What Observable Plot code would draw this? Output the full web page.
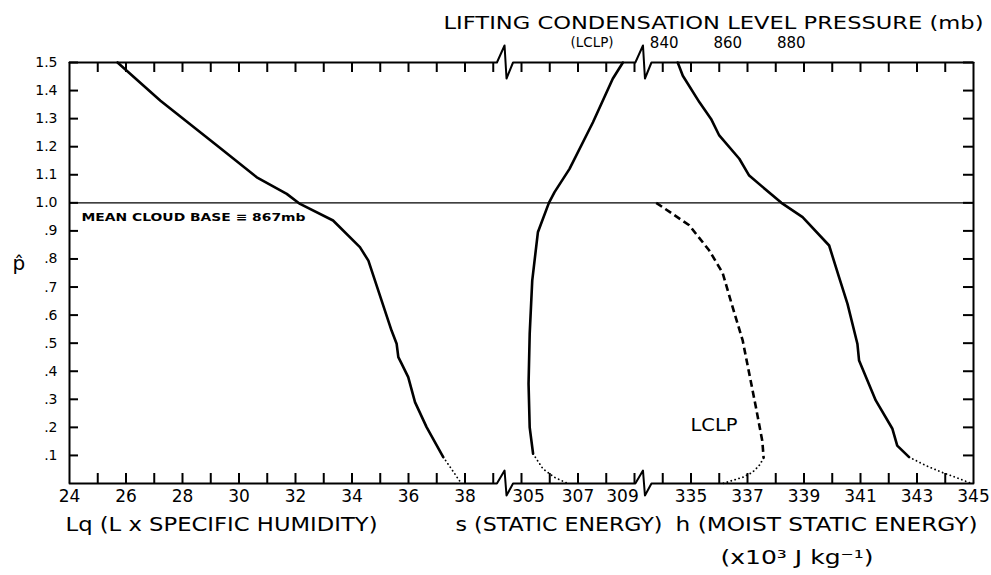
<!DOCTYPE html>
<html>
<head>
<meta charset="utf-8">
<script src="https://cdn.jsdelivr.net/npm/d3@7"></script>
<script src="https://cdn.jsdelivr.net/npm/@observablehq/plot@0.6"></script>
<style>
  html, body { margin: 0; padding: 0; background: #fff; }
  svg { display: block; }
</style>
</head>
<body>
<div id="chart"></div>
<script>
// ---------- DATA ----------
// Lq (L x specific humidity), x10^3 J/kg  vs  p-hat
const pHatLq = [1.5, 1.364, 1.204, 1.091, 1.032, 0.996, 0.937, 0.842, 0.794, 0.545, 0.498, 0.45, 0.426, 0.379, 0.29, 0.201, 0.094];
const lqValues = [25.7, 27.22, 29.22, 30.63, 31.69, 32.16, 33.33, 34.28, 34.58, 35.40, 35.58, 35.64, 35.76, 35.99, 36.23, 36.64, 37.23];
const pHatLqDotted = [0.094, 0.052, 0];
const lqDotted = [37.23, 37.52, 37.87];

// s (static energy)
const pHatS = [1.5, 1.442, 1.287, 1.121, 1.038, 1.0, 0.895, 0.723, 0.533, 0.355, 0.2, 0.106];
const sValues = [308.59, 308.23, 307.53, 306.70, 306.17, 305.97, 305.58, 305.38, 305.29, 305.25, 305.29, 305.41];
const pHatSDotted = [0.106, 0.052, 0.022, 0];
const sDotted = [305.41, 305.76, 306.17, 306.64];

// h (moist static energy)
const pHatH = [1.5, 1.453, 1.358, 1.299, 1.24, 1.157, 1.097, 1.0, 0.949, 0.848, 0.735, 0.64, 0.498, 0.438, 0.296, 0.195, 0.135, 0.094];
const hValues = [334.53, 334.71, 335.30, 335.71, 336.0, 336.71, 337.06, 338.2, 338.95, 339.89, 340.24, 340.54, 340.89, 340.95, 341.54, 342.13, 342.30, 342.72];
const pHatHDotted = [0.094, 0.064, 0.04, 0.022, 0];
const hDotted = [342.72, 343.31, 343.88, 344.37, 344.93];

// LCLP (lifting condensation level pressure, mb) - dashed
const pHatLclp = [1.0, 0.92, 0.83, 0.75, 0.63, 0.51, 0.39, 0.27, 0.15, 0.09];
const lclpValues = [837.5, 847.9, 854.2, 858.4, 861.5, 864.7, 866.8, 868.9, 870.9, 871.3];
const pHatLclpDotted = [0.09, 0.064, 0.04, 0.022, 0.011, 0];
const lclpDotted = [871.3, 869.9, 867.8, 864.7, 861.5, 858.4];

// tick labels
const yTickValues = [0.1, 0.2, 0.3, 0.4, 0.5, 0.6, 0.7, 0.8, 0.9, 1.0, 1.1, 1.2, 1.3, 1.4, 1.5];
const lqTickLabels = [24, 26, 28, 30, 32, 34, 36, 38];
const sTickLabels = [305, 307, 309];
const hTickLabels = [335, 337, 339, 341, 343, 345];
const lclpTickLabels = [840, 860, 880];
const cloudBase = 1.0;

// ---------- broken axis: map each segment onto one common coordinate ----------
const seg = {
  lq: v => v,
  s: v => v - 265,
  h: v => v - 289,
  lclp: mb => 45.05 + (mb - 840) * 0.1125
};
const toPts = (xs, ys, f) => xs.map((v, i) => ({x: f(v), y: ys[i]}));
const tickPositions = d3.range(25, 56);
const breakCenters = [seg.lq(39.4), seg.s(309.3)];

// plot geometry
const W = 991, H = 575, mL = 69, mR = 18, mT = 62, mB = 92;
const X0 = 24, X1 = 56, Y0 = 0, Y1 = 1.5;
const pxPerX = (W - mL - mR) / (X1 - X0);
const pxPerY = (H - mT - mB) / (Y1 - Y0);
const tickLenX = 10 / pxPerY;   // vertical ticks on top/bottom (in y units)
const tickLenYL = 9 / pxPerX;   // horizontal ticks on the left (in x units)
const tickLenYR = 10 / pxPerX;  // horizontal ticks on the right

function axisPath(yLevel, up, down) {
  const pts = [[X0, yLevel]];
  for (const c of breakCenters) {
    pts.push([c - 0.27, yLevel], [c, yLevel + up], [c + 0.07, yLevel - down], [c + 0.3, yLevel]);
  }
  pts.push([X1, yLevel]);
  return pts;
}
const topAxis = axisPath(Y1, 17 / pxPerY, 16 / pxPerY);
const bottomAxis = axisPath(Y0, 13 / pxPerY, 12 / pxPerY);

const fmtY = d => d >= 1 ? d.toFixed(1) : "." + Math.round(d * 10);
const FONT = "DejaVu Sans";
const solid = {x: "x", y: "y", stroke: "black", strokeWidth: 2.6, strokeLinejoin: "round", strokeLinecap: "round"};
const dotted = {x: "x", y: "y", stroke: "black", strokeWidth: 1.8, strokeDasharray: "0.1,4", strokeLinecap: "round"};

const chart = Plot.plot({
  width: W,
  height: H,
  marginLeft: mL,
  marginRight: mR,
  marginTop: mT,
  marginBottom: mB,
  style: {fontFamily: FONT, fontSize: "14px", background: "white", color: "black"},
  x: {domain: [X0, X1], axis: null},
  y: {domain: [Y0, Y1], axis: null},
  marks: [
    Plot.ruleY([cloudBase], {strokeWidth: 1.3}),
    Plot.ruleX([X0, X1], {strokeWidth: 2}),
    Plot.line(topAxis, {x: d => d[0], y: d => d[1], strokeWidth: 2}),
    Plot.line(bottomAxis, {x: d => d[0], y: d => d[1], strokeWidth: 2}),

    // inward ticks
    Plot.ruleX(tickPositions, {x: d => d, y1: Y0, y2: Y0 + tickLenX, strokeWidth: 2}),
    Plot.ruleX(tickPositions, {x: d => d, y1: Y1, y2: Y1 - tickLenX, strokeWidth: 2}),
    Plot.ruleY(yTickValues, {y: d => d, x1: X0, x2: X0 + tickLenYL, strokeWidth: 2}),
    Plot.ruleY(yTickValues, {y: d => d, x1: X1, x2: X1 - tickLenYR, strokeWidth: 2}),

    // y tick labels
    Plot.text(yTickValues, {y: d => d, text: fmtY, frameAnchor: "left", textAnchor: "end", dx: -12, fontSize: 14}),

    // curves
    Plot.line(toPts(lqValues, pHatLq, seg.lq), solid),
    Plot.line(toPts(lqDotted, pHatLqDotted, seg.lq), dotted),
    Plot.line(toPts(sValues, pHatS, seg.s), solid),
    Plot.line(toPts(sDotted, pHatSDotted, seg.s), dotted),
    Plot.line(toPts(hValues, pHatH, seg.h), solid),
    Plot.line(toPts(hDotted, pHatHDotted, seg.h), dotted),
    Plot.line(toPts(lclpValues, pHatLclp, seg.lclp), {...solid, strokeDasharray: "7,4", strokeLinecap: "butt"}),
    Plot.line(toPts(lclpDotted, pHatLclpDotted, seg.lclp), dotted),

    // bottom tick labels
    Plot.text(lqTickLabels, {x: seg.lq, text: d => String(d), frameAnchor: "bottom", dy: 18, fontSize: 17}),
    Plot.text(sTickLabels.filter(d => d === 305), {x: seg.s, text: d => String(d), frameAnchor: "bottom", dy: 18, dx: 7, fontSize: 17}),
    Plot.text(sTickLabels.filter(d => d === 307), {x: seg.s, text: d => String(d), frameAnchor: "bottom", dy: 18, fontSize: 17}),
    Plot.text(sTickLabels.filter(d => d === 309), {x: seg.s, text: d => String(d), frameAnchor: "bottom", dy: 18, dx: -12, fontSize: 17}),
    Plot.text(hTickLabels, {x: seg.h, text: d => String(d), frameAnchor: "bottom", dy: 18, fontSize: 17}),

    // top LCLP labels
    Plot.text(lclpTickLabels, {x: seg.lclp, text: d => String(d), frameAnchor: "top", dy: -25, fontSize: 15}),
    Plot.text(["(LCLP)"], {frameAnchor: "top-left", textAnchor: "start", dx: 501, dy: -25, fontSize: 14}),
    Plot.text(["LIFTING CONDENSATION LEVEL PRESSURE (mb)"], {frameAnchor: "top-left", textAnchor: "start", dx: 374, dy: -46, fontSize: 18}),

    // axis titles
    Plot.text(["Lq (L x SPECIFIC HUMIDITY)"], {frameAnchor: "bottom-left", textAnchor: "start", dx: -4, dy: 47, fontSize: 19}),
    Plot.text(["s (STATIC ENERGY)"], {frameAnchor: "bottom-left", textAnchor: "start", dx: 386, dy: 47, fontSize: 19}),
    Plot.text(["h (MOIST STATIC ENERGY)"], {frameAnchor: "bottom-left", textAnchor: "start", dx: 606, dy: 47, fontSize: 19}),
    Plot.text(["(x10³ J kg⁻¹)"], {frameAnchor: "bottom-left", textAnchor: "start", dx: 651, dy: 80, fontSize: 19}),
    Plot.text(["p̂"], {frameAnchor: "left", textAnchor: "start", dx: -57, dy: -9, fontSize: 20}),

    // annotations
    Plot.text(["MEAN CLOUD BASE ≡ 867mb"], {x: X0, y: cloudBase, textAnchor: "start", dx: 12, dy: 15, fontSize: 11, fontWeight: "bold"}),
    Plot.text(["LCLP"], {frameAnchor: "top-left", textAnchor: "start", dx: 621, dy: 356, fontSize: 17})
  ]
});

const fits = new Map([
  ["LIFTING CONDENSATION LEVEL PRESSURE (mb)", 540],
  ["(LCLP)", 43],
  ["MEAN CLOUD BASE ≡ 867mb", 224],
  ["Lq (L x SPECIFIC HUMIDITY)", 312],
  ["s (STATIC ENERGY)", 207],
  ["h (MOIST STATIC ENERGY)", 302],
  ["(x10³ J kg⁻¹)", 153],
  ["LCLP", 47]
]);
chart.querySelectorAll("text").forEach(t => {
  const L = fits.get(t.textContent);
  if (L) { t.setAttribute("textLength", L); t.setAttribute("lengthAdjust", "spacingAndGlyphs"); }
});
document.getElementById("chart").appendChild(chart);
</script>
</body>
</html>
